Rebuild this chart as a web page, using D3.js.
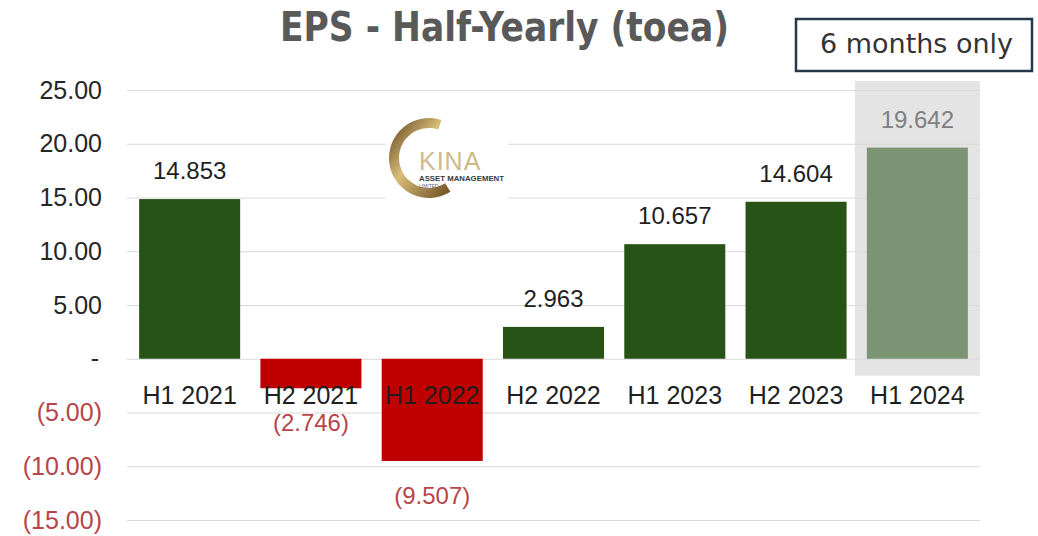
<!DOCTYPE html>
<html>
<head>
<meta charset="utf-8">
<script src="https://cdn.jsdelivr.net/npm/d3@7"></script>
<style>
  html, body { margin: 0; padding: 0; background: #fff; }
  svg { display: block; }
</style>
</head>
<body>
<svg id="chart" width="1038" height="536"></svg>
<script>
// Half-yearly earnings per share, in toea
const periods = ["H1 2021", "H2 2021", "H1 2022", "H2 2022", "H1 2023", "H2 2023", "H1 2024"];
const eps = [14.853, -2.746, -9.507, 2.963, 10.657, 14.604, 19.642];
const partialPeriod = "H1 2024";   // six months only, shown highlighted
const yTicks = [25, 20, 15, 10, 5, 0, -5, -10, -15];

const svg = d3.select("#chart");
const FONT = "'Liberation Sans', Arial, sans-serif";

const x = d3.scaleBand()
  .domain(periods)
  .range([127, 980])
  .paddingInner(0.167)
  .paddingOuter(0.1);

const y = d3.scaleLinear()
  .domain([-15, 25])
  .range([520, 90]);

// Highlight panel behind the partial-year bar
const hx = x(partialPeriod);
svg.append("rect")
  .attr("x", hx - 12)
  .attr("y", y(25) - 9)
  .attr("width", x.bandwidth() + 24)
  .attr("height", y(0) - y(25) + 26)
  .attr("fill", "#e4e4e4");

// Gridlines and value axis
const yAxis = d3.axisLeft(y)
  .tickValues(yTicks)
  .tickSize(-(980 - 127))
  .tickPadding(25)
  .tickFormat(v => v > 0 ? v.toFixed(2) : v === 0 ? "-" : "(" + Math.abs(v).toFixed(2) + ")");

const ga = svg.append("g")
  .attr("transform", "translate(127,0)")
  .call(yAxis);
ga.select(".domain").remove();
ga.selectAll(".tick line").attr("stroke", "#d9d9d9").attr("stroke-width", 1.2);
ga.selectAll(".tick text")
  .attr("font-family", FONT)
  .attr("font-size", 25)
  .attr("fill", d => d < 0 ? "#b8454a" : "#262626")
  .attr("dx", d => d === 0 ? -3 : 0);

// Bars
svg.append("g").selectAll("rect")
  .data(periods)
  .join("rect")
  .attr("x", d => x(d))
  .attr("width", x.bandwidth())
  .attr("y", (d, i) => y(Math.max(0, eps[i])))
  .attr("height", (d, i) => Math.abs(y(eps[i]) - y(0)))
  .attr("fill", (d, i) => d === partialPeriod ? "#7a9474" : eps[i] < 0 ? "#c00000" : "#285317");

// Category labels sit just under the zero line
svg.append("g").selectAll("text")
  .data(periods)
  .join("text")
  .attr("x", d => x(d) + x.bandwidth() / 2)
  .attr("y", y(0) + 45)
  .attr("text-anchor", "middle")
  .attr("font-family", FONT)
  .attr("font-size", 25)
  .attr("fill", "#1f1f1f")
  .text(d => d);

// Value labels
svg.append("g").selectAll("text")
  .data(periods)
  .join("text")
  .attr("x", d => x(d) + x.bandwidth() / 2)
  .attr("y", (d, i) => eps[i] >= 0 ? y(eps[i]) - 20 : y(eps[i]) + 43)
  .attr("text-anchor", "middle")
  .attr("font-family", FONT)
  .attr("font-size", 24)
  .attr("fill", (d, i) => d === partialPeriod ? "#7f7f7f" : eps[i] < 0 ? "#b8454a" : "#1f1f1f")
  .text((d, i) => eps[i] < 0 ? "(" + Math.abs(eps[i]).toFixed(3) + ")" : eps[i].toFixed(3));

// Title
svg.append("text")
  .attr("x", 280)
  .attr("y", 41)
  .attr("font-family", "'Liberation Sans Narrow', 'DejaVu Sans Condensed', 'Arial Narrow', sans-serif")
  .attr("font-weight", "bold")
  .attr("font-size", 41)
  .attr("textLength", 449)
  .attr("lengthAdjust", "spacingAndGlyphs")
  .attr("fill", "#595959")
  .text("EPS - Half-Yearly (toea)");

// "6 months only" note
svg.append("rect")
  .attr("x", 796).attr("y", 19)
  .attr("width", 236).attr("height", 52)
  .attr("fill", "#fff")
  .attr("stroke", "#26394a")
  .attr("stroke-width", 2.5);
svg.append("text")
  .attr("x", 820).attr("y", 53)
  .attr("font-family", "'DejaVu Sans', sans-serif")
  .attr("font-size", 26)
  .attr("textLength", 193)
  .attr("lengthAdjust", "spacingAndGlyphs")
  .attr("fill", "#333")
  .text("6 months only");

// Company logo
const logo = svg.append("g");
logo.append("rect")
  .attr("x", 386).attr("y", 114)
  .attr("width", 122).attr("height", 88)
  .attr("fill", "#fff");
const grad = svg.append("defs").append("linearGradient")
  .attr("id", "gold").attr("x1", "0").attr("y1", "0").attr("x2", "1").attr("y2", "1");
grad.append("stop").attr("offset", "0").attr("stop-color", "#5a3d16");
grad.append("stop").attr("offset", "0.45").attr("stop-color", "#d9bd7a");
grad.append("stop").attr("offset", "1").attr("stop-color", "#6b4a1e");
logo.append("path")
  .attr("transform", "translate(429,158)")
  .attr("d", d3.arc()({ innerRadius: 30, outerRadius: 40, startAngle: Math.PI * 0.82, endAngle: Math.PI * 2.1 }))
  .attr("fill", "url(#gold)");
logo.append("text")
  .attr("x", 419).attr("y", 170)
  .attr("font-family", FONT)
  .attr("font-size", 25)
  .attr("letter-spacing", 1)
  .attr("fill", "#cdb98a")
  .text("KINA");
logo.append("text")
  .attr("x", 419).attr("y", 181)
  .attr("font-family", FONT)
  .attr("font-size", 7)
  .attr("font-weight", "bold")
  .attr("textLength", 85)
  .attr("lengthAdjust", "spacingAndGlyphs")
  .attr("fill", "#3a3a3a")
  .text("ASSET MANAGEMENT");
logo.append("text")
  .attr("x", 419).attr("y", 188)
  .attr("font-family", FONT)
  .attr("font-size", 5)
  .attr("fill", "#666")
  .text("LIMITED");
</script>
</body>
</html>
